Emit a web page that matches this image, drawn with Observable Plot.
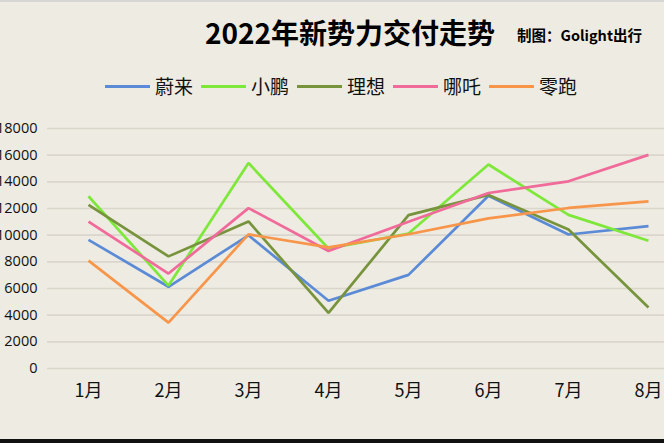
<!DOCTYPE html>
<html>
<head>
<meta charset="utf-8">
<script src="https://cdn.jsdelivr.net/npm/d3@7"></script>
<script src="https://cdn.jsdelivr.net/npm/@observablehq/plot@0.6"></script>
<style>
  html, body { margin: 0; padding: 0; background: #eeebe2; }
  #wrap { position: relative; width: 664px; height: 443px; overflow: hidden; background: #eeebe2;
          font-family: "Noto Sans CJK SC", "Noto Sans", sans-serif; }
  #topline { position: absolute; left: 0; top: 0; width: 664px; height: 2px; background: #d6d6d4; }
  #botline { position: absolute; left: 0; top: 439px; width: 664px; height: 4px; background: #111; }
  #title { position: absolute; left: 205px; top: 17px; font-size: 28px; font-weight: bold; color: #000; line-height: 1.1; white-space: nowrap; }
  #sub { position: absolute; left: 517px; top: 27px; font-size: 14.5px; font-weight: bold; color: #000; line-height: 1.1; white-space: nowrap; }
  #legend { position: absolute; left: 105px; top: 73px; display: flex; align-items: center; white-space: nowrap; }
  .item { display: flex; align-items: center; margin-right: 8px; }
  .sw { width: 45px; height: 3px; margin-right: 5px; }
  .lab { font-size: 19px; color: #111; line-height: 26px; }
  #chart { position: absolute; left: 0; top: 110px; }
</style>
</head>
<body>
<div id="wrap">
  <div id="topline"></div>
  <div id="title">2022年新势力交付走势</div>
  <div id="sub">制图：Golight出行</div>
  <div id="legend"></div>
  <div id="chart"></div>
  <div id="botline"></div>
</div>
<script>
const months = ["1月", "2月", "3月", "4月", "5月", "6月", "7月", "8月"];
const seriesNames = ["蔚来", "小鹏", "理想", "哪吒", "零跑"];
const seriesColors = ["#5b8bd6", "#7ee83a", "#77933c", "#f06a9a", "#f7964a"];
const nio   = [9650, 6130, 9990, 5080, 7020, 12960, 10050, 10680];
const xpeng = [12920, 6220, 15410, 9000, 10120, 15300, 11520, 9580];
const li    = [12270, 8410, 11030, 4170, 11500, 13020, 10420, 4570];
const neta  = [11010, 7120, 12030, 8810, 11010, 13160, 14040, 16020];
const leap  = [8090, 3440, 10060, 9090, 10070, 11260, 12040, 12530];
const yTicks = [0, 2000, 4000, 6000, 8000, 10000, 12000, 14000, 16000, 18000];

const allSeries = [nio, xpeng, li, neta, leap];
const data = [];
allSeries.forEach((vals, si) => {
  vals.forEach((v, i) => data.push({ series: seriesNames[si], month: months[i], value: v }));
});

// legend
const legend = document.getElementById("legend");
seriesNames.forEach((n, i) => {
  const it = document.createElement("div");
  it.className = "item";
  it.innerHTML = `<div class="sw" style="background:${seriesColors[i]}"></div><div class="lab">${n}</div>`;
  legend.appendChild(it);
});

const chart = Plot.plot({
  width: 700,
  height: 310,
  marginLeft: 47,
  marginRight: 12,
  marginTop: 18,
  marginBottom: 52,
  style: { background: "transparent", maxWidth: "none", overflow: "visible",
           fontFamily: "'Open Sans', 'Noto Sans', sans-serif" },
  x: { type: "point", domain: months, padding: 0.5, label: null },
  y: { domain: [0, 18000], label: null },
  color: { domain: seriesNames, range: seriesColors },
  marks: [
    Plot.ruleY(yTicks, { stroke: "#dad6cc", strokeWidth: 1.7 }),
    Plot.axisY({ ticks: yTicks, tickFormat: d => String(d), tickSize: 0, tickPadding: 10,
                 fontSize: 14.5, fill: "#111", label: null }),
    Plot.axisX({ tickSize: 0, tickPadding: 16, fontSize: 18, fill: "#111", label: null,
                 fontFamily: "'Noto Sans CJK SC', sans-serif" }),
    Plot.line(data, { x: "month", y: "value", z: "series", stroke: "series", strokeWidth: 2.7,
                      strokeLinejoin: "miter", strokeLinecap: "butt" })
  ]
});
document.getElementById("chart").appendChild(chart);
</script>
</body>
</html>
